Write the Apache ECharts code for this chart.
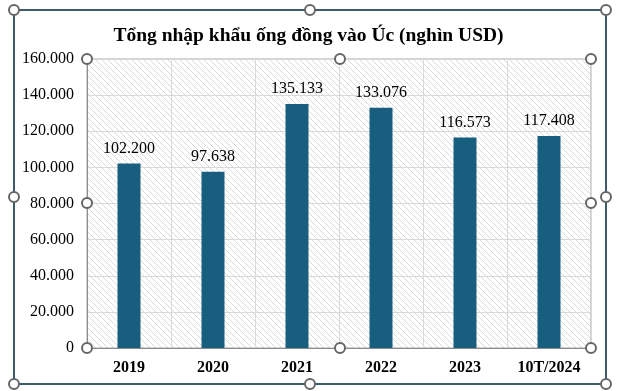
<!DOCTYPE html>
<html><head><meta charset="utf-8">
<script src="https://cdn.jsdelivr.net/npm/echarts@6/dist/echarts.min.js"></script>
<style>html,body{margin:0;padding:0;background:#fff;}#c{width:617px;height:391px;}</style>
</head><body><div id="c"></div>
<script>
const categories = ['2019','2020','2021','2022','2023','10T/2024'];
const values = [102200, 97638, 135133, 133076, 116573, 117408];
const titleText = 'Tổng nhập khẩu ống đồng vào Úc (nghìn USD)';

function fmt(v){ return String(v).replace(/\B(?=(\d{3})+(?!\d))/g, '.'); }

const pc = document.createElement('canvas');
pc.width = 6; pc.height = 6;
const g = pc.getContext('2d');
g.fillStyle = '#ffffff'; g.fillRect(0,0,6,6);
g.strokeStyle = '#dadada'; g.lineWidth = 1;
g.beginPath();
g.moveTo(-1,-1); g.lineTo(7,7);
g.moveTo(-4,2); g.lineTo(4,10);
g.moveTo(2,-4); g.lineTo(10,4);
g.stroke();

const chart = echarts.init(document.getElementById('c'), null, {renderer:'canvas'});
const handle = (x,y)=>({type:'circle', shape:{cx:x, cy:y, r:5}, style:{fill:'#fff', stroke:'#666666', lineWidth:2}, z:100});
chart.setOption({
  animation:false,
  backgroundColor:'#fff',
  title:{text:titleText, left:'center', top:21, textStyle:{fontFamily:'Liberation Serif', fontWeight:'bold', fontSize:19.5, color:'#000'}},
  grid:{left:87, right:26, top:59, bottom:43, show:true, backgroundColor:{image:pc, repeat:'repeat'}, borderColor:'#a6a6a6', borderWidth:1},
  xAxis:{type:'category', data:categories,
    axisLine:{lineStyle:{color:'#8c8c8c'}}, axisTick:{show:false},
    splitLine:{show:true, lineStyle:{color:'#d9d9d9'}},
    axisLabel:{fontFamily:'Liberation Serif', fontWeight:'bold', fontSize:16, color:'#000', margin:12}},
  yAxis:{type:'value', min:0, max:160000, interval:20000,
    axisLine:{show:true, lineStyle:{color:'#8c8c8c'}}, axisTick:{show:false},
    splitLine:{lineStyle:{color:'#d9d9d9'}},
    axisLabel:{fontFamily:'Liberation Serif', fontSize:16, color:'#000', margin:13, formatter:v=>fmt(v)}},
  series:[{type:'bar', data:values, barWidth:23, itemStyle:{color:'#175e7f'},
    label:{show:true, position:'top', distance:7, fontFamily:'Liberation Serif', fontSize:16, color:'#000', formatter:p=>fmt(p.value)}}],
  graphic:[
    {type:'rect', shape:{x:14, y:10, width:592, height:374}, style:{fill:null, stroke:'#3e5b6b', lineWidth:2}, z:90},
    handle(14,10), handle(310,10), handle(606,10),
    handle(14,197), handle(606,197),
    handle(14,384), handle(310,384), handle(606,384),
    handle(87,59), handle(340,59), handle(591,59),
    handle(87,203), handle(591,203),
    handle(87,348), handle(340,348), handle(591,348)
  ]
});
</script></body></html>
